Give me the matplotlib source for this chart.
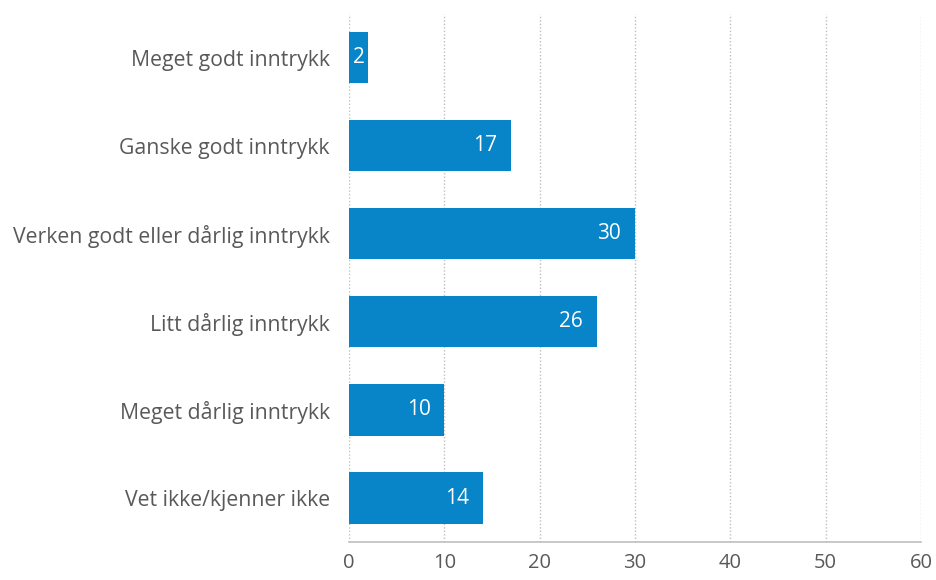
import matplotlib.pyplot as plt
from matplotlib.transforms import offset_copy

categories = ["Meget godt inntrykk", "Ganske godt inntrykk",
              "Verken godt eller dårlig inntrykk", "Litt dårlig inntrykk",
              "Meget dårlig inntrykk", "Vet ikke/kjenner ikke"]
values = [2, 17, 30, 26, 10, 14]
xticks = [0, 10, 20, 30, 40, 50, 60]

plt.rcParams['font.family'] = ['Open Sans', 'DejaVu Sans']

fig = plt.figure(figsize=(9.36, 5.8), dpi=100)
ax = fig.add_axes([0.373, 0.0655, 0.611, 0.9105])

pos = list(range(len(categories)))
ax.barh(pos, values, height=0.58, color="#0884C8", zorder=3)

inside = offset_copy(ax.transData, fig=fig, x=-10, y=0, units="points")
for p, v in zip(pos, values):
    if v < 4:
        ax.text(v / 2, p, str(v), ha="center", va="center",
                color="white", fontsize=15, zorder=4)
    else:
        ax.text(v, p, str(v), ha="right", va="center", transform=inside,
                color="white", fontsize=15, zorder=4)

ax.set_ylim(len(categories) - 0.5, -0.5)
ax.set_xlim(0, 60)
ax.set_yticks(pos)
ax.set_yticklabels(categories, fontsize=15.3, color="#595959")
ax.set_xticks(xticks)
ax.set_xticklabels([str(t) for t in xticks], fontsize=14.5, color="#595959")
ax.tick_params(axis="x", length=0, pad=8)
ax.tick_params(axis="y", length=0, pad=14)

ax.grid(axis="x", color="#BFBFBF", linestyle=(0, (1, 1.5)), linewidth=1, zorder=0)
for s in ["top", "right", "left"]:
    ax.spines[s].set_visible(False)
ax.spines["bottom"].set_color("#BFBFBF")
ax.spines["bottom"].set_linewidth(1.2)

fig.savefig("out.png", dpi=100)
